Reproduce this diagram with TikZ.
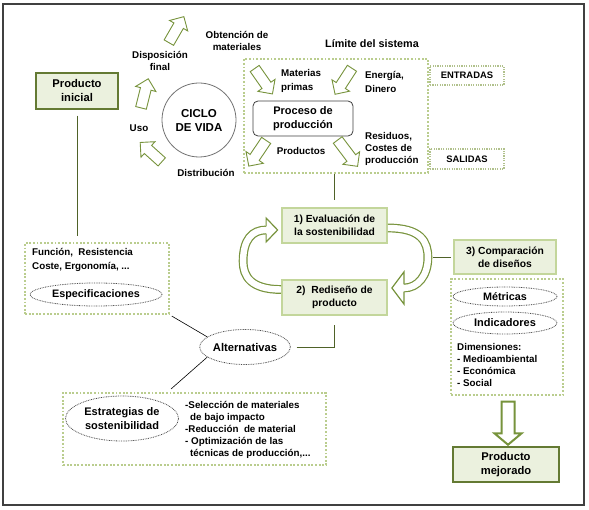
\documentclass[tikz,border=0pt]{standalone}
\usepackage{fontspec}
\setmainfont{Liberation Sans}
\usetikzlibrary{shapes.geometric,shapes.arrows,calc}
\definecolor{boxfill}{HTML}{EBF1DE}
\definecolor{boxline}{HTML}{C3D69B}
\definecolor{dotline}{HTML}{BACD8E}
\definecolor{dkolive}{HTML}{4F6228}
\definecolor{arrgreen}{HTML}{77933C}
\definecolor{prodline}{HTML}{647A33}
\begin{document}
\begin{tikzpicture}[x=1pt,y=-1pt,
  every node/.style={font=\bfseries},
  lbl/.style={font=\fontsize{9.8}{12.5}\selectfont\bfseries, align=center, inner sep=0pt},
  lblleft/.style={lbl, align=left, anchor=west},
  greenbox/.style={draw=boxline, line width=1.8pt, fill=boxfill, minimum width=105pt, minimum height=35pt, inner sep=0pt, align=center, font=\fontsize{10.3}{13}\selectfont\bfseries},
  prodbox/.style={draw=prodline, line width=1.3pt, fill=boxfill, inner sep=0pt, align=center, font=\fontsize{11.2}{14}\selectfont\bfseries},
  dotbox/.style={draw=dotline, line width=2.1pt, dash pattern=on 1.9pt off 1.7pt, inner sep=0pt},
  smalldot/.style={draw=dotline!85!gray, line width=1.2pt, dash pattern=on 1.2pt off 1.2pt, inner sep=0pt, font=\fontsize{9.4}{11}\selectfont\bfseries},
  dotell/.style={ellipse, draw=black!70, line width=0.8pt, dash pattern=on 0.8pt off 0.9pt, inner sep=0pt, align=center},
  blockarrow/.style={single arrow, draw=arrgreen, fill=white, line width=0.9pt, inner sep=5pt, single arrow head extend=5pt, anchor=center},
  conn/.style={draw=dkolive, line width=0.9pt},
  thinline/.style={draw=black, line width=0.6pt},
  curvarrow/.style={draw=arrgreen, line width=1.2pt, double=white, double distance=6.4pt},
  headfill/.style={fill=white},
  headline/.style={draw=arrgreen, line width=1.2pt, line join=miter},
]
\useasboundingbox (0,0) rectangle (589,510);
\draw[black!75, line width=1.2pt] (3,4) rectangle (584,505);

% Producto inicial and specifications
\node[prodbox, minimum width=82pt, minimum height=36pt] (pini) at (77,91) {Producto\\inicial};
\node[dotbox, minimum width=144pt, minimum height=71pt] (spec) at (97,278.5) {};
\node[lblleft, font=\fontsize{9.8}{13.5}\selectfont\bfseries] (spectxt) at (32,260) {Función,\ \ Resistencia\\Coste, Ergonomía, ...};
\node[dotell, minimum width=132pt, minimum height=23pt, font=\fontsize{10.8}{13}\selectfont\bfseries] (espec) at (96,294.5) {Especificaciones};
\draw[conn, shorten <=6pt, shorten >=6pt] (pini.south) -- (pini.south |- spec.north);

% Life cycle
\node[circle, draw=black!55, line width=0.8pt, minimum size=74pt, inner sep=0pt, align=center, font=\fontsize{11.5}{14}\selectfont\bfseries] (ciclo) at (199,120) {CICLO\\DE VIDA};
\node[lbl] (obt) at (237,41) {Obtención de\\materiales};
\node[lbl] (disp) at (160,61) {Disposición\\final};
\node[lbl] (uso) at (139,128) {Uso};
\node[lbl] (distr) at (206,173) {Distribución};
\node[blockarrow, minimum height=30pt, rotate=60] (a1) at (175,32) {};
\node[blockarrow, minimum height=30pt, rotate=76] (a2) at (144,96) {};
\node[blockarrow, minimum height=29pt, rotate=138] (a3) at (153,154) {};

% System boundary
\node[lbl, font=\fontsize{10.8}{13}\selectfont\bfseries] (lim) at (372,44) {Límite del sistema};
\node[dotbox, minimum width=184pt, minimum height=114pt] (sys) at (336,116) {};
\node[lblleft, font=\fontsize{9.8}{13.4}\selectfont\bfseries] (mat) at (281,81) {Materias\\primas};
\node[lblleft, font=\fontsize{9.8}{14}\selectfont\bfseries] (ener) at (365,81.5) {Energía,\\Dinero};
\node[draw=black!75, line width=0.8pt, rounded corners=5pt, fill=white, minimum width=100pt, minimum height=35pt, inner sep=0pt, align=center, font=\fontsize{11}{14}\selectfont\bfseries] (proc) at (303,118.5) {Proceso de\\producción};
\node[lbl] (prods) at (301,151) {Productos};
\node[lblleft, font=\fontsize{9.8}{12}\selectfont\bfseries] (resid) at (365,149) {Residuos,\\Costes de\\producción};
\node[blockarrow, minimum height=31pt, rotate=-55] (a4) at (262,79) {};
\node[blockarrow, minimum height=31pt, rotate=-123] (a5) at (345,79) {};
\node[blockarrow, minimum height=31pt, rotate=-124] (a6) at (259,151) {};
\node[blockarrow, minimum height=33pt, rotate=-53] (a7) at (346,151) {};
\node[smalldot, minimum width=74pt, minimum height=19pt] (entr) at (467,75.5) {ENTRADAS};
\node[smalldot, minimum width=74pt, minimum height=20pt] (sal) at (467,159) {SALIDAS};

% Evaluation / redesign loop
\node[greenbox] (b1) at (334.5,225.5) {1) Evaluación de\\la sostenibilidad};
\node[greenbox] (b2) at (334.5,297.5) {2)\ \ Rediseño de\\producto};
\draw[conn, shorten >=7pt] (b1.north |- sys.south) -- (b1.north);

\draw[curvarrow] ($(b2.west)+(0,-8)$) .. controls +(-30,0) and +(0,15) .. ($(b2.west)+(-38,-36)$) .. controls +(0,-22) and +(-14,0) .. ($(b1.west)+(-15,4.5)$);
\fill[headfill] ($(b1.west)+(-15,-7.5)$) -- ($(b1.west)+(-3.5,4.5)$) -- ($(b1.west)+(-15,16.5)$) -- cycle;
\draw[headline] ($(b1.west)+(-15,0.9)$) -- ($(b1.west)+(-15,-7.5)$) -- ($(b1.west)+(-3.5,4.5)$) -- ($(b1.west)+(-15,16.5)$) -- ($(b1.west)+(-15,8.1)$);

\draw[curvarrow] ($(b1.east)+(0,2.5)$) .. controls +(33,0) and +(0,-16) .. ($(b1.east)+(40,32)$) .. controls +(0,18) and +(14,0) .. ($(b2.east)+(16,-9.5)$);
\fill[headfill] ($(b2.east)+(16,-25.5)$) -- ($(b2.east)+(4,-9.5)$) -- ($(b2.east)+(16,6.5)$) -- cycle;
\draw[headline] ($(b2.east)+(16,-13.1)$) -- ($(b2.east)+(16,-25.5)$) -- ($(b2.east)+(4,-9.5)$) -- ($(b2.east)+(16,6.5)$) -- ($(b2.east)+(16,-5.9)$);

% Comparison of designs
\node[greenbox, minimum width=102pt, minimum height=34pt] (b3) at (505,257) {3) Comparación\\de diseños};
\coordinate (cmpend) at (433,257);
\draw[conn, shorten <=2pt] (b3.west) -- (cmpend);
\node[dotbox, minimum width=112pt, minimum height=116pt] (metr) at (507,337) {};
\node[dotell, minimum width=104pt, minimum height=19pt, font=\fontsize{10.8}{12}\selectfont\bfseries] (metricas) at (505,296.5) {Métricas};
\node[dotell, minimum width=104pt, minimum height=22pt, font=\fontsize{11}{12}\selectfont\bfseries] (indic) at (505,323) {Indicadores};
\node[lblleft, font=\fontsize{9.8}{12.2}\selectfont\bfseries] (dims) at (457,365) {Dimensiones:\\- Medioambiental\\- Económica\\- Social};
\node[single arrow, draw=arrgreen, fill=white, line width=2pt, inner sep=5.5pt, minimum height=43pt, single arrow head extend=7pt, single arrow tip angle=100, rotate=-90] (bigarr) at (508,420.5) {};
\node[prodbox, minimum width=106pt, minimum height=35pt] (pmej) at (506,464.5) {Producto\\mejorado};

% Alternatives and strategies
\node[dotell, minimum width=84pt, minimum height=35pt, font=\fontsize{11.2}{13}\selectfont\bfseries] (alt) at (245,347) {Alternativas};
\node[dotbox, minimum width=263pt, minimum height=72pt] (estr) at (194.5,429) {};
\node[dotell, minimum width=113pt, minimum height=45pt, font=\fontsize{11}{14}\selectfont\bfseries] (estrell) at (122,418.5) {Estrategias de\\sostenibilidad};
\node[lblleft, font=\fontsize{9.8}{12}\selectfont\bfseries] (estrlist) at (185,430) {-Selección de materiales\\\hspace*{5pt}de bajo impacto\\-Reducción\ \ de material\\- Optimización de las\\\hspace*{5pt}técnicas de producción,...};
\coordinate (estrpt) at (171,389);
\draw[thinline, shorten <=2pt] (spec.south east) -- (alt.165);
\draw[thinline] (alt.195) -- (estrpt);
\draw[conn, shorten <=6pt, shorten >=9pt] (alt.east) -| (b2.south);
\end{tikzpicture}
\end{document}
